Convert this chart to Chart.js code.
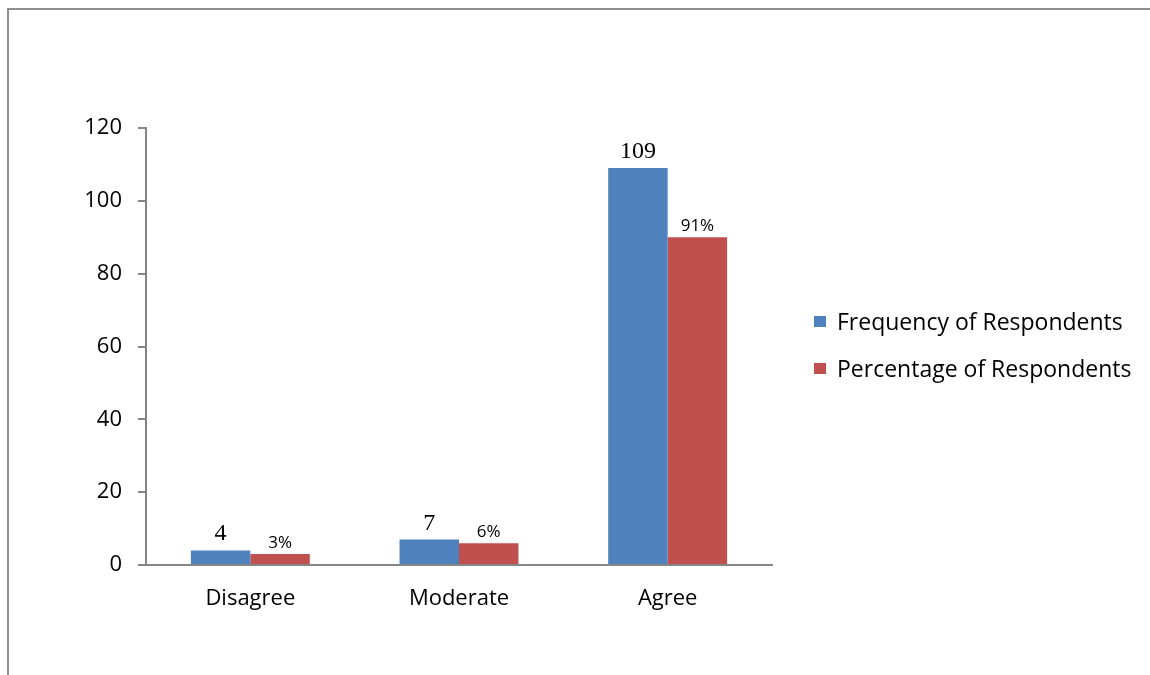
<!DOCTYPE html>
<html>
<head>
<meta charset="utf-8">
<script src="https://cdn.jsdelivr.net/npm/chart.js@4.4.1/dist/chart.umd.min.js"></script>
<style>
  body { margin: 0; background: #fff; width: 1150px; height: 675px; overflow: hidden; position: relative; }
  .frame { position: absolute; left: 7px; top: 8px; right: 0; bottom: 0; border-top: 2px solid #8f8f8f; border-left: 2px solid #8f8f8f; }
  #chart { position: absolute; left: 0; top: 0; }
  .legend { position: absolute; left: 814px; top: 305px; margin: 0; padding: 0; list-style: none; font-family: 'Open Sans', sans-serif; font-size: 23px; color: #000; }
  .legend li { display: flex; align-items: center; height: 32px; margin-bottom: 15px; white-space: nowrap; }
  .legend .box { width: 12px; height: 11px; margin-right: 11px; display: inline-block; }
</style>
</head>
<body>
<div class="frame"></div>
<canvas id="chart" width="1150" height="675"></canvas>
<ul class="legend"></ul>
<script>
const categories = ['Disagree', 'Moderate', 'Agree'],
  seriesNames = ['Frequency of Respondents', 'Percentage of Respondents'],
  frequency = [4, 7, 109],
  percentage = [3, 6, 90],
  frequencyLabels = ['4', '7', '109'],
  percentageLabels = ['3%', '6%', '91%'],
  yTicks = [0, 20, 40, 60, 80, 100, 120];

const blue = '#4F81BD',
  red = '#C0504D',
  axisGrey = '#868686';

// value labels above each bar, placed from the bar elements
const barLabels = {
  id: 'barLabels',
  afterDatasetsDraw(chart) {
    const ctx = chart.ctx;
    const sets = [
      { texts: frequencyLabels, font: '24px "Liberation Serif", serif', gap: 10 },
      { texts: percentageLabels, font: '17px "Open Sans", sans-serif', gap: 6 }
    ];
    ctx.save();
    ctx.fillStyle = '#000';
    ctx.textAlign = 'center';
    ctx.textBaseline = 'alphabetic';
    sets.forEach((s, di) => {
      ctx.font = s.font;
      chart.getDatasetMeta(di).data.forEach((bar, i) => {
        ctx.fillText(s.texts[i], bar.x, bar.y - s.gap);
      });
    });
    ctx.restore();
  }
};

const chart = new Chart(document.getElementById('chart'), {
  type: 'bar',
  data: {
    labels: categories,
    datasets: [
      { label: seriesNames[0], data: frequency, backgroundColor: blue },
      { label: seriesNames[1], data: percentage, backgroundColor: red }
    ]
  },
  options: {
    responsive: false,
    animation: false,
    devicePixelRatio: 1,
    layout: { padding: { left: 0, top: 128, right: 378, bottom: 50 } },
    datasets: { bar: { categoryPercentage: 0.57, barPercentage: 1 } },
    plugins: { legend: { display: false }, tooltip: { enabled: false } },
    scales: {
      x: {
        grid: { display: false, drawTicks: false },
        border: { display: true, color: axisGrey, width: 2 },
        ticks: { color: '#000', font: { family: 'Open Sans', size: 22 }, padding: 21 },
        afterFit(scale) { scale.height = 60; }
      },
      y: {
        min: 0,
        max: 120,
        afterBuildTicks(scale) { scale.ticks = yTicks.map(v => ({ value: v })); },
        grid: { drawOnChartArea: false, drawTicks: true, tickLength: 8, color: axisGrey, lineWidth: 2 },
        border: { display: true, color: axisGrey, width: 2 },
        ticks: { color: '#000', font: { family: 'Open Sans', size: 22 }, padding: 16 },
        afterFit(scale) { scale.width = 146; }
      }
    }
  },
  plugins: [barLabels]
});

// html legend
const ul = document.querySelector('.legend');
chart.data.datasets.forEach(ds => {
  const li = document.createElement('li');
  const box = document.createElement('span');
  box.className = 'box';
  box.style.background = ds.backgroundColor;
  li.appendChild(box);
  li.appendChild(document.createTextNode(ds.label));
  ul.appendChild(li);
});
</script>
</body>
</html>
